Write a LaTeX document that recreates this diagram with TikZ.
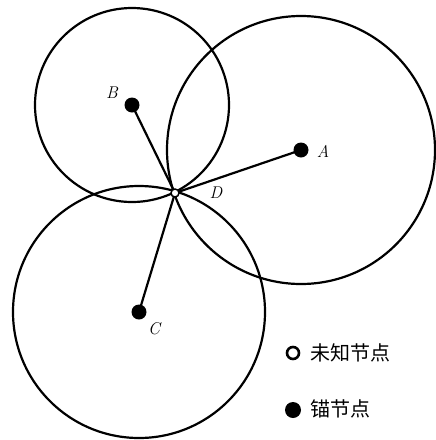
\documentclass[tikz,border=0pt]{standalone}
\usepackage{fontspec}
\newfontfamily\cjk{Noto Sans CJK SC}
\begin{document}
\begin{tikzpicture}[x=1pt,y=-1pt,
  ring/.style={draw,line width=2.2pt},
  anchornode/.style={circle,fill=black,inner sep=0pt,minimum size=15pt},
  unknownnode/.style={circle,draw,fill=white,line width=1.5pt,inner sep=0pt,minimum size=8pt},
  link/.style={line width=2.2pt},
  lbl/.style={font=\fontsize{17}{17}\selectfont\itshape,inner sep=0pt},
  legtext/.style={font=\cjk\fontsize{20}{20}\selectfont,anchor=west,inner sep=0pt}]
\useasboundingbox (0,0) rectangle (436,440);
\coordinate (pa) at (301,150);
\coordinate (pb) at (132,105);
\coordinate (pc) at (139,312);
\coordinate (pd) at (175,193);
\draw[ring] (pb) circle (97);
\draw[ring] (pa) circle (134);
\draw[ring] (pc) circle (126);
\draw[link] (pa) -- (pd);
\draw[link] (pb) -- (pd);
\draw[link] (pc) -- (pd);
\node[anchornode] (A) at (pa) {};
\node[anchornode] (B) at (pb) {};
\node[anchornode] (C) at (pc) {};
\node[unknownnode] (D) at (pd) {};
\node[lbl] (la) at (323,151) {A};
\node[lbl] (lb) at (112,93) {B};
\node[lbl] (lc) at (154,329) {C};
\node[lbl] (ld) at (216,193) {D};
\node[unknownnode,minimum size=12pt,line width=2.6pt] (k1) at (293,353) {};
\node[legtext] (t1) at (310,353) {未知节点};
\node[anchornode,minimum size=16pt] (k2) at (293,410) {};
\node[legtext] (t2) at (310,409) {锚节点};
\end{tikzpicture}
\end{document}
